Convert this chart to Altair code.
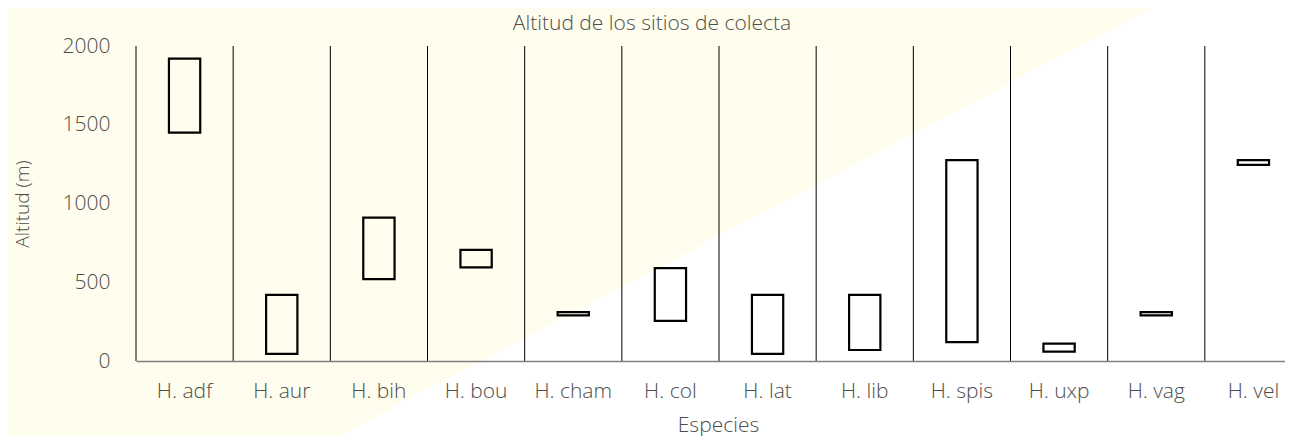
import altair as alt
import pandas as pd

# ---- data ----
species = ["H. adf", "H. aur", "H. bih", "H. bou", "H. cham", "H. col",
           "H. lat", "H. lib", "H. spis", "H. uxp", "H. vag", "H. vel"]
alt_min = [1450, 45, 520, 595, 290, 255, 45, 70, 120, 60, 290, 1245]
alt_max = [1920, 420, 910, 705, 310, 590, 420, 420, 1275, 110, 310, 1275]
y_ticks = [0, 500, 1000, 1500, 2000]

title_text = "Altitud de los sitios de colecta"
x_title = "Especies"
y_title = "Altitud (m)"

df = pd.DataFrame({"especie": species, "min": alt_min, "max": alt_max})
bg_df = pd.DataFrame({"bg": [0]})

# ---- layout ----
W, H = 1149, 315                      # visible plot width (page clips the last band)
BAND_SPAN = 1166                      # full span of the 12 bands
ORIGIN_X, ORIGIN_Y = 136, 46          # page position of the plot's top-left
PAGE_W, PAGE_H = 1293, 444
FONT = "Open Sans"
TXT = "#4d4d4d"
FS = 21
YELLOW = "#FFFDED"

grad = alt.LinearGradient(
    gradient="linear", x1=0, y1=0, x2=1, y2=0.6528,
    stops=[
        alt.GradientStop(offset=0, color=YELLOW),
        alt.GradientStop(offset=0.633, color=YELLOW),
        alt.GradientStop(offset=0.633, color="#FFFFFF"),
        alt.GradientStop(offset=1, color="#FFFFFF"),
    ],
)

background = alt.Chart(bg_df).mark_rect(fill=grad).encode(
    x=alt.value(-ORIGIN_X), x2=alt.value(PAGE_W - ORIGIN_X),
    y=alt.value(-ORIGIN_Y), y2=alt.value(PAGE_H - ORIGIN_Y),
)

x_scale = alt.Scale(paddingInner=0, paddingOuter=0, range=[0, BAND_SPAN])
y_scale = alt.Scale(domain=[0, 2000], nice=False)

x_axis = alt.Axis(title=x_title, domain=True, domainColor="#7f7f7f",
                  domainWidth=1.3, ticks=False, grid=False,
                  labelAngle=0, labelPadding=19, labelBaseline="top",
                  labelFont=FONT, labelFontSize=FS, labelFontWeight=300,
                  labelColor=TXT,
                  titleFont=FONT, titleFontSize=FS, titleFontWeight=300,
                  titleColor=TXT, titleX=582, titleY=70,
                  titleAlign="center", titleBaseline="alphabetic",
                  zindex=1)

y_axis = alt.Axis(title=y_title, values=y_ticks, format="d", domain=False,
                  ticks=False, grid=False, labelPadding=26,
                  labelFont=FONT, labelFontSize=FS, labelFontWeight=300,
                  labelColor=TXT,
                  titleFont=FONT, titleFontSize=19, titleFontWeight=300,
                  titleColor=TXT, titleAngle=270,
                  titleX=-114, titleY=157.5,
                  titleAlign="center", titleBaseline="middle",
                  zindex=1)

separators = alt.Chart(df).mark_rule(color="#000000", strokeWidth=1).encode(
    x=alt.X("especie:N", sort=species, scale=x_scale, bandPosition=0, axis=x_axis),
    y=alt.value(0), y2=alt.value(H),
)

boxes = alt.Chart(df).mark_bar(
    fill="transparent", stroke="#000000", strokeWidth=2.2,
    width=alt.RelativeBandSize(0.322),
).encode(
    x=alt.X("especie:N", sort=species, scale=x_scale, axis=x_axis),
    y=alt.Y("min:Q", scale=y_scale, axis=y_axis),
    y2="max:Q",
)

title = alt.Chart(bg_df).mark_text(
    text=title_text, font=FONT, fontSize=FS, fontWeight=300, color=TXT,
    align="center", baseline="alphabetic",
).encode(x=alt.value(652 - ORIGIN_X), y=alt.value(30 - ORIGIN_Y))

chart = alt.layer(background, separators, boxes, title).properties(
    width=W, height=H,
    autosize=alt.AutoSizeParams(type="none"),
    padding={"left": ORIGIN_X - 8, "top": ORIGIN_Y - 8, "right": 0,
             "bottom": PAGE_H - 8 - ORIGIN_Y - H},
    background="#FFFFFF",
).configure_view(strokeWidth=0)

chart.save("out.html", embed_options={"renderer": "svg", "actions": False})
